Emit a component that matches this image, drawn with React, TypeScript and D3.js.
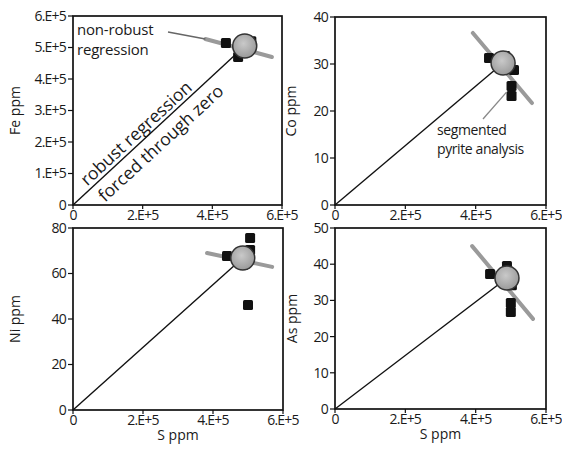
import React from "react";
import * as d3 from "d3";

// S ppm ticks shared by all four panels
const sTicks = [0, 2e5, 4e5, 6e5];

const feTicks = [0, 1e5, 2e5, 3e5, 4e5, 5e5, 6e5];
const coTicks = [0, 10, 20, 30, 40];
const niTicks = [0, 20, 40, 60, 80];
const asTicks = [0, 10, 20, 30, 40, 50];

// segmented pyrite analyses [S, element]
const feSquares = [[4.39e5, 5.14e5], [4.74e5, 4.7e5], [5.08e5, 4.98e5], [5.12e5, 5.2e5]];
const coSquares = [[4.38e5, 31.3], [4.84e5, 31.7], [5.09e5, 28.7], [5.02e5, 25.3], [5.02e5, 23.2]];
const niSquares = [[4.4e5, 67.7], [5.06e5, 75.6], [5.06e5, 70.3], [4.86e5, 63.7], [5.0e5, 46.2]];
const asSquares = [[4.41e5, 37.3], [4.89e5, 39.5], [5.03e5, 34.2], [5.0e5, 29.3], [5.0e5, 26.8]];

// whole-grain mean (grey circle)
const feMean = [4.93e5, 5.05e5];
const coMean = [4.78e5, 30.2];
const niMean = [4.85e5, 66.8];
const asMean = [4.89e5, 36.2];

// non-robust regression end points
const feReg = [[3.8e5, 5.27e5], [5.71e5, 4.7e5]];
const coReg = [[3.92e5, 36.6], [5.6e5, 21.7]];
const niReg = [[3.83e5, 69.0], [5.69e5, 62.9]];
const asReg = [[3.9e5, 45.0], [5.63e5, 24.9]];

const FONT = "'Open Sans', sans-serif";

const fmtE = (v: number) => (v === 0 ? "0" : `${v / 1e5}.E+5`);

type PanelProps = {
  left: number;
  right: number;
  top: number;
  bottom: number;
  yTicks: number[];
  yFmt: (v: number) => string;
  yLabel: string;
  yLabelX: number;
  squares: number[][];
  mean: number[];
  reg: number[][];
  xLabel?: boolean;
  children?: (x: any, y: any) => React.ReactNode;
};

const Panel = (p: PanelProps) => {
  const x = d3.scaleLinear().domain([0, 6e5]).range([p.left, p.right]);
  const y = d3
    .scaleLinear()
    .domain([0, d3.max(p.yTicks) as number])
    .range([p.bottom, p.top]);
  const line = d3.line<number[]>().x((d) => x(d[0])).y((d) => y(d[1]));
  const sq = 10;
  return (
    <g>
      <rect
        x={p.left}
        y={p.top}
        width={p.right - p.left}
        height={p.bottom - p.top}
        fill="none"
        stroke="#111"
        strokeWidth={1.7}
      />
      {p.yTicks.map((t) => (
        <g key={"y" + t}>
          <line x1={p.left - 5} x2={p.left} y1={y(t)} y2={y(t)} stroke="#111" strokeWidth={1.2} />
          <text
            x={p.left - 7}
            y={y(t)}
            dy="0.35em"
            textAnchor="end"
            fontSize={14}
            fill="#1a1a1a"
            letterSpacing={-0.8}
          >
            {p.yFmt(t)}
          </text>
        </g>
      ))}
      {sTicks.map((t) => (
        <g key={"x" + t}>
          <line x1={x(t)} x2={x(t)} y1={p.bottom} y2={p.bottom + 4} stroke="#111" strokeWidth={1.2} />
          <text
            x={x(t)}
            y={p.bottom + 15}
            textAnchor="middle"
            fontSize={14}
            fill="#1a1a1a"
            letterSpacing={-0.8}
          >
            {fmtE(t)}
          </text>
        </g>
      ))}
      <text
        transform={`translate(${p.yLabelX},${(p.top + p.bottom) / 2}) rotate(-90)`}
        textAnchor="middle"
        fontSize={14}
        fill="#1a1a1a"
      >
        {p.yLabel}
      </text>
      {p.xLabel && (
        <text
          x={(p.left + p.right) / 2}
          y={p.bottom + 30}
          textAnchor="middle"
          fontSize={14}
          fill="#1a1a1a"
        >
          S ppm
        </text>
      )}
      <path d={line(p.reg) as string} stroke="#9a9a9a" strokeWidth={4} strokeLinecap="round" fill="none" />
      {p.squares.map((d, i) => (
        <rect
          key={i}
          x={x(d[0]) - sq / 2}
          y={y(d[1]) - sq / 2}
          width={sq}
          height={sq}
          rx={1.5}
          fill="#111"
        />
      ))}
      <path d={line([[0, 0], p.mean]) as string} stroke="#111" strokeWidth={1.4} fill="none" />
      <circle cx={x(p.mean[0])} cy={y(p.mean[1])} r={12} fill="url(#meanFill)" stroke="#333" strokeWidth={1.5} />
      {p.children && p.children(x, y)}
    </g>
  );
};

export default function App() {
  const ang = -42.6;
  return (
    <svg
      width={562}
      height={457}
      style={{ position: "absolute", left: 0, top: 0, background: "#fff" }}
      fontFamily={FONT}
    >
      <defs>
        <radialGradient id="meanFill" cx="0.45" cy="0.4" r="0.6">
          <stop offset="0" stopColor="#c9c9c9" />
          <stop offset="1" stopColor="#9a9a9a" />
        </radialGradient>
      </defs>
      <rect width={562} height={457} fill="#fff" />
      <Panel
        left={73}
        right={282}
        top={16}
        bottom={205}
        yTicks={feTicks}
        yFmt={fmtE}
        yLabel="Fe ppm"
        yLabelX={20}
        squares={feSquares}
        mean={feMean}
        reg={feReg}
      >
        {(x, y) => (
          <g>
            <line
              x1={168}
              y1={32}
              x2={x(feReg[0][0])}
              y2={y(feReg[0][1])}
              stroke="#666"
              strokeWidth={1.5}
            />
            <text x={77} y={35} fontSize={15} fill="#1a1a1a" letterSpacing={-0.2}>
              non-robust
            </text>
            <text x={77} y={55} fontSize={15} fill="#1a1a1a" letterSpacing={-0.2}>
              regression
            </text>
            <g transform={`translate(${x(0)},${y(0)}) rotate(${ang})`}>
              <text x={23} y={-4} fontSize={17.5} fill="#1a1a1a">
                robust regression
              </text>
              <text x={25} y={20} fontSize={17.5} fill="#1a1a1a">
                forced through zero
              </text>
            </g>
          </g>
        )}
      </Panel>
      <Panel
        left={335}
        right={546}
        top={17}
        bottom={205}
        yTicks={coTicks}
        yFmt={(v) => String(v)}
        yLabel="Co ppm"
        yLabelX={296}
        squares={coSquares}
        mean={coMean}
        reg={coReg}
      >
        {(x, y) => (
          <g>
            <line
              x1={483}
              y1={119}
              x2={x(coSquares[3][0]) - 5}
              y2={y(coSquares[3][1]) + 6}
              stroke="#888"
              strokeWidth={1.3}
            />
            <text x={437} y={135} fontSize={14} fill="#1a1a1a" letterSpacing={-0.4}>
              segmented
            </text>
            <text x={437} y={154} fontSize={14} fill="#1a1a1a" letterSpacing={-0.4}>
              pyrite analysis
            </text>
          </g>
        )}
      </Panel>
      <Panel
        left={73}
        right={283}
        top={228}
        bottom={410}
        yTicks={niTicks}
        yFmt={(v) => String(v)}
        yLabel="Ni ppm"
        yLabelX={20}
        squares={niSquares}
        mean={niMean}
        reg={niReg}
        xLabel
      />
      <Panel
        left={335}
        right={546}
        top={228}
        bottom={409}
        yTicks={asTicks}
        yFmt={(v) => String(v)}
        yLabel="As ppm"
        yLabelX={297}
        squares={asSquares}
        mean={asMean}
        reg={asReg}
        xLabel
      />
    </svg>
  );
}
